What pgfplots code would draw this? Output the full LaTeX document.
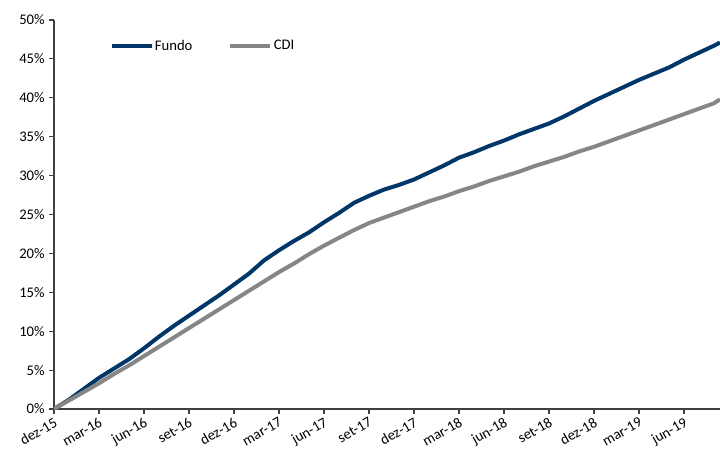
\documentclass[border=0pt]{standalone}
\usepackage{pgfplots}
\pgfplotsset{compat=1.18}
\usepackage{fontspec}
\setmainfont{Carlito}
\definecolor{fundo}{RGB}{0,54,104}
\definecolor{cdi}{RGB}{134,134,134}
\definecolor{axc}{RGB}{64,64,64}
\begin{document}
\begin{tikzpicture}
\begin{axis}[
  name=ax,
  scale only axis,
  width=499.5pt, height=291.75pt,
  xmin=0, xmax=44.4, ymin=0, ymax=50,
  axis lines*=left,
  axis line style={axc, line width=0.9pt, -},
  tick style={axc, line width=0.9pt},
  tick align=outside,
  major tick length=3.5pt,
  xtick={0,3,...,42},
  xticklabels={dez-15,mar-16,jun-16,set-16,dez-16,mar-17,jun-17,set-17,dez-17,mar-18,jun-18,set-18,dez-18,mar-19,jun-19},
  xticklabel style={rotate=30, anchor=north east, font=\fontsize{11}{13}\selectfont, inner sep=1.5pt},
  ytick={0,5,...,50},
  yticklabels={0\%,5\%,10\%,15\%,20\%,25\%,30\%,35\%,40\%,45\%,50\%},
  yticklabel style={font=\fontsize{11}{13}\selectfont},
  /pgf/number format/assume math mode=true,
  legend columns=2,
  legend style={draw=none, fill=none, at={(0.083,0.933)}, anchor=west,
    font=\fontsize{11}{13}\selectfont, inner xsep=0pt,
    nodes={inner xsep=1pt},
    /tikz/every even column/.append style={column sep=26pt}},
  legend image code/.code={\draw[#1] (0pt,0pt) -- (30pt,0pt);},
]
\addplot[fundo, line width=3pt, line join=round] coordinates {
(0,0) (1,1.2) (2,2.6) (3,4.0) (4,5.2) (5,6.4) (6,7.8) (7,9.3) (8,10.7) (9,12.0)
(10,13.3) (11,14.6) (12,16.0) (13,17.4) (14,19.1) (15,20.4) (16,21.6) (17,22.7)
(18,24.0) (19,25.2) (20,26.5) (21,27.4) (22,28.2) (23,28.8) (24,29.5) (25,30.4)
(26,31.3) (27,32.3) (28,33.0) (29,33.8) (30,34.5) (31,35.3) (32,36.0) (33,36.7)
(34,37.6) (35,38.6) (36,39.6) (37,40.5) (38,41.4) (39,42.3) (40,43.1) (41,43.9)
(42,44.9) (43,45.8) (44,46.7) (44.4,47.1)};
\addlegendentry{Fundo}
\addplot[cdi, line width=3pt, line join=round] coordinates {
(0,0) (1,1.1) (2,2.2) (3,3.3) (4,4.5) (5,5.6) (6,6.8) (7,8.0) (8,9.2) (9,10.4)
(10,11.6) (11,12.8) (12,14.0) (13,15.2) (14,16.4) (15,17.6) (16,18.7) (17,19.9)
(18,21.0) (19,22.0) (20,23.0) (21,23.9) (22,24.6) (23,25.3) (24,26.0) (25,26.7)
(26,27.3) (27,28.0) (28,28.6) (29,29.3) (30,29.9) (31,30.5) (32,31.2) (33,31.8)
(34,32.4) (35,33.1) (36,33.7) (37,34.4) (38,35.1) (39,35.8) (40,36.5) (41,37.2)
(42,37.9) (43,38.6) (44,39.3) (44.4,39.8)};
\addlegendentry{CDI}
\end{axis}
\pgfresetboundingbox
\path ([xshift=-40.5pt, yshift=-30.75pt]ax.south west) rectangle ([yshift=15pt]ax.north east);
\end{tikzpicture}
\end{document}
